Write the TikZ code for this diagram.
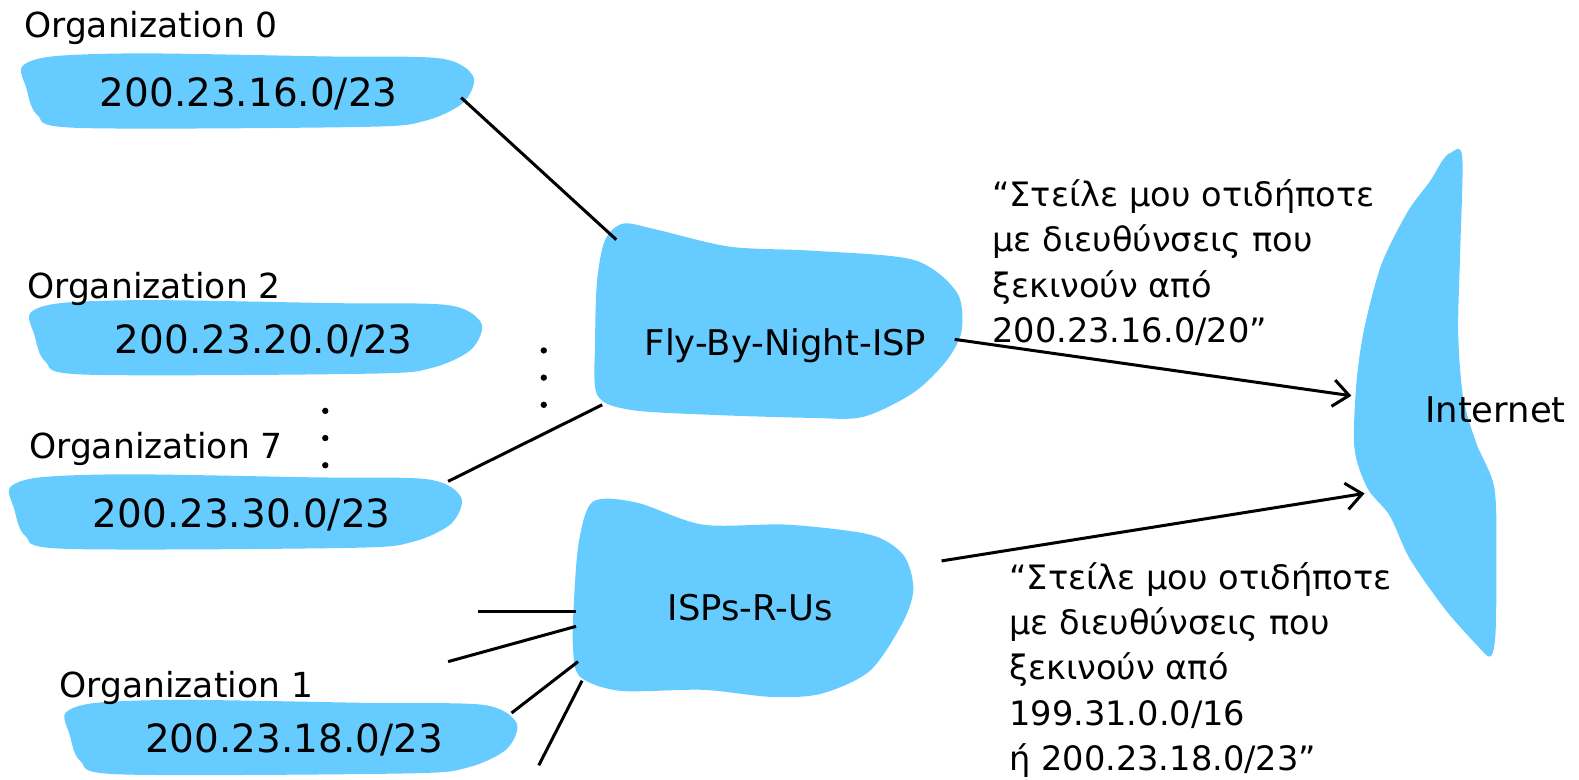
\documentclass[tikz,border=0pt]{standalone}
\usepackage{fontspec}
\setmainfont{DejaVu Sans}
\usetikzlibrary{arrows.meta}
\definecolor{netblue}{RGB}{102,204,255}
\tikzset{
  blob/.style={fill=netblue},
  link/.style={line width=1.7pt},
  adv/.style={link,-{Straight Barb[length=9pt,width=15pt,line width=1.7pt]}},
  addr/.style={font=\fontsize{22}{26}\selectfont},
  orglabel/.style={font=\fontsize{19.5}{23}\selectfont},
  isplabel/.style={font=\fontsize{20}{24}\selectfont},
  msg/.style={font=\fontsize{19}{25.6}\selectfont,align=left,anchor=north west,inner sep=0pt},
}
% one organization cloud, top left corner at (#1,#2)
\newcommand\orgcloud[2]{\fill[blob,shift={(#1,#2)}] plot[smooth cycle] coordinates {(0,14)(30,4)(120,1)(300,4)(415,6)(448,24)(438,50)(400,68)(340,74)(55,75)(15,62)(4,35)};}

\begin{document}
\begin{tikzpicture}[x=0.02cm,y=-0.02cm]
  \useasboundingbox (0,0) rectangle (1568,774);
  % organizations
  \orgcloud{22}{52}
  \orgcloud{30}{297}
  \orgcloud{10}{470}
  \orgcloud{65}{694}
  \node[orglabel] (lab0) at (150,28) {Organization 0};
  \node[addr] (org0) at (247,93) {200.23.16.0/23};
  \node[orglabel] (lab2) at (153,287) {Organization 2};
  \node[addr] (org2) at (262,338) {200.23.20.0/23};
  \node[orglabel] (lab7) at (155,446) {Organization 7};
  \node[addr] (org7) at (240,511) {200.23.30.0/23};
  \node[orglabel] (lab1) at (185,683) {Organization 1};
  \node[addr] (org1) at (292,735) {200.23.18.0/23};
  \foreach \y in {408,435,462} \fill (323,\y) circle (1.8pt);
  \foreach \y in {348,375,402} \fill (540,\y) circle (1.8pt);
  % ISPs
  \fill[blob] plot[smooth cycle] coordinates {(619,222)(652,228)(725,245)(807,249)(907,258)(950,290)(955,328)(940,358)(907,390)(857,414)(807,415)(708,412)(626,407)(593,392)(591,338)(593,278)(601,238)};
  \node[isplabel] (fbn) at (780,343) {Fly-By-Night-ISP};
  \fill[blob] plot[smooth cycle] coordinates {(589,498)(632,499)(698,521)(782,521)(864,531)(897,551)(907,584)(897,617)(864,666)(815,689)(765,692)(698,685)(616,686)(576,672)(569,643)(570,596)(575,537)};
  \node[isplabel] (isps) at (745,603) {ISPs-R-Us};
  % Internet
  \fill[blob] plot[smooth cycle] coordinates {(1440,152)(1452,155)(1450,250)(1448,330)(1453,395)(1466,440)(1484,485)(1486,560)(1485,630)(1480,652)(1466,640)(1435,605)(1400,555)(1380,512)(1358,485)(1345,445)(1347,380)(1355,325)(1372,262)(1398,210)(1420,180)(1432,160)};
  \node[isplabel] (inet) at (1485,407) {Internet};
  % contact points
  \coordinate (o0) at (458,97);
  \coordinate (o7) at (445,478);
  \coordinate (o1) at (508,708);
  \coordinate (f0) at (612,238);
  \coordinate (f7) at (598,402);
  \coordinate (fout) at (948,337);
  \coordinate (i1) at (1342,393);
  \coordinate (sout) at (935,557);
  \coordinate (i2) at (1355,490);
  \coordinate (s1) at (572,607);
  \coordinate (s2) at (572,622);
  \coordinate (s3) at (574,657);
  \coordinate (s4) at (578,676);
  \coordinate (e1) at (475,607);
  \coordinate (e2) at (445,657);
  \coordinate (e4) at (535,760);
  \draw[link] (o0) -- (f0);
  \draw[link] (o7) -- (f7);
  \draw[link] (e1) -- (s1);
  \draw[link] (e2) -- (s2);
  \draw[link] (o1) -- (s3);
  \draw[link] (e4) -- (s4);
  \draw[adv] (fout) -- (i1);
  \draw[adv] (sout) -- (i2);
  % advertisements
  \node[msg] (msg1) at (985,178) {“Στείλε μου οτιδήποτε\\με διευθύνσεις που\\ξεκινούν από\\200.23.16.0/20”};
  \node[msg] (msg2) at (1002,558) {“Στείλε μου οτιδήποτε\\με διευθύνσεις που\\ξεκινούν από\\199.31.0.0/16\\ή 200.23.18.0/23”};
\end{tikzpicture}
\end{document}
